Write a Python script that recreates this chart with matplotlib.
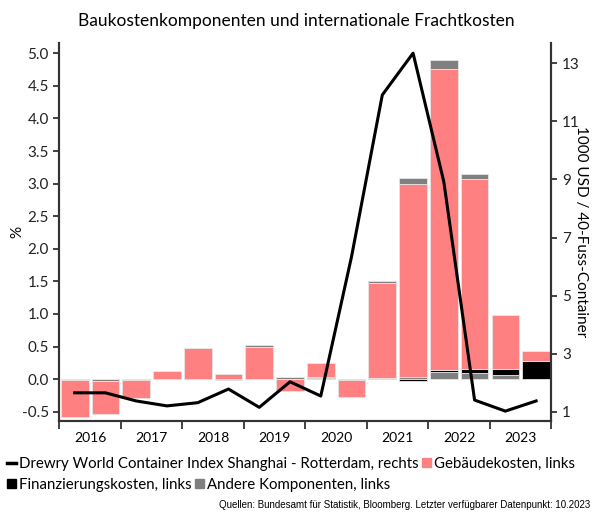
import numpy as np
import matplotlib
matplotlib.use("Agg")
import matplotlib.pyplot as plt
from matplotlib.lines import Line2D
from matplotlib.patches import Patch

plt.rcParams['font.family'] = ['Lato', 'DejaVu Sans']

years = ['2016', '2017', '2018', '2019', '2020', '2021', '2022', '2023']
# Halbjahreswerte, Prozentpunkte
andere = [-0.015, -0.03, -0.015, 0.0, 0.0, 0.0, 0.0, 0.03, 0.02, 0.0, 0.02, 0.035, 0.11, 0.10, 0.06, 0.0]
finanz = [0.0, 0.0, 0.0, 0.0, 0.0, 0.0, 0.0, 0.0, 0.01, -0.02, 0.0, -0.03, 0.025, 0.05, 0.09, 0.28]
gebaeude = [-0.57, -0.51, -0.27, 0.12, 0.47, 0.08, 0.49, -0.18, 0.21, -0.26, 1.45, 2.965, 4.62, 2.92, 0.84, 0.15]
andere_oben = [0.0, 0.0, 0.0, 0.0, 0.0, -0.02, 0.04, 0.0, 0.0, 0.0, 0.04, 0.08, 0.135, 0.085, 0.0, 0.0]
# Drewry WCI, 1000 USD
drewry = [1.65, 1.65, 1.37, 1.20, 1.31, 1.78, 1.15, 2.03, 1.54, 6.34, 11.91, 13.35, 8.92, 1.40, 1.02, 1.37]

pink = '#ff8080'
grau = '#808080'

fig = plt.figure(figsize=(5.93, 5.16), dpi=100)
ax = fig.add_axes([0.100, 0.1847, 0.830, 0.732])
ax2 = ax.twinx()

x = np.arange(len(gebaeude))
pos = np.zeros(len(x))
neg = np.zeros(len(x))
for vals, col in [(andere, grau), (finanz, 'black'), (gebaeude, pink), (andere_oben, grau)]:
    v = np.array(vals)
    bottom = np.where(v >= 0, pos, neg)
    ax.bar(x, v, bottom=bottom, width=0.9, color=col, edgecolor='#e6e6e6', linewidth=0.6)
    pos = pos + np.where(v > 0, v, 0)
    neg = neg + np.where(v < 0, v, 0)

ax2.plot(x, drewry, color='black', lw=2.2)

ax.set_xlim(-0.5, 15.5)
ax.set_ylim(-0.638, 5.158)
ax2.set_ylim(0.69, 13.70)
ax.set_yticks(np.arange(-0.5, 5.01, 0.5))
ax.set_yticklabels(['%.1f' % t for t in np.arange(-0.5, 5.01, 0.5)])
ax2.set_yticks([1, 3, 5, 7, 9, 11, 13])

ax.set_xticks(np.arange(-0.5, 15.6, 2))
ax.set_xticklabels([])
ax.set_xticks(np.arange(0.5, 15.6, 2), minor=True)
ax.set_xticklabels(years, minor=True)
ax.tick_params(axis='x', which='minor', length=0, pad=8)
ax.tick_params(axis='x', which='major', length=6, width=1.2, color='#333333')

for a in (ax, ax2):
    a.spines['top'].set_visible(False)
    for s in ('left', 'right', 'bottom'):
        a.spines[s].set_color('#333333')
        a.spines[s].set_linewidth(1.5)
    a.tick_params(labelsize=11, colors='#222222')
ax.tick_params(axis='y', length=4, width=1.2)
ax2.tick_params(axis='y', length=4, width=1.2)

ax.set_ylabel('%', fontsize=11, labelpad=2)
ax2.set_ylabel('1000 USD / 40-Fuss-Container', fontsize=11, rotation=270, labelpad=8)
ax2.yaxis.set_label_coords(1.075, 0.5)
ax.yaxis.set_label_coords(-0.07, 0.5)

fig.suptitle('Baukostenkomponenten und internationale Frachtkosten', fontsize=12.5, y=0.975)

h1 = [Line2D([0], [0], color='black', lw=2.5), Patch(color=pink)]
l1 = ['Drewry World Container Index Shanghai - Rotterdam, rechts', 'Gebäudekosten, links']
h2 = [Patch(color='black'), Patch(color=grau)]
l2 = ['Finanzierungskosten, links', 'Andere Komponenten, links']
kw = dict(frameon=False, ncol=2, fontsize=10.8, handlelength=0.6, handleheight=0.6,
          handletextpad=0.2, columnspacing=0.2, borderaxespad=0, borderpad=0)
fig.legend(h1, l1, loc='upper left', bbox_to_anchor=(0.012, 0.115), **kw)
fig.legend(h2, l2, loc='upper left', bbox_to_anchor=(0.012, 0.074), **kw)

fig.text(0.995, 0.012, 'Quellen: Bundesamt für Statistik, Bloomberg. Letzter verfügbarer Datenpunkt: 10.2023',
         ha='right', va='bottom', fontsize=7, family='Liberation Sans')

fig.savefig('out.png', dpi=100)
